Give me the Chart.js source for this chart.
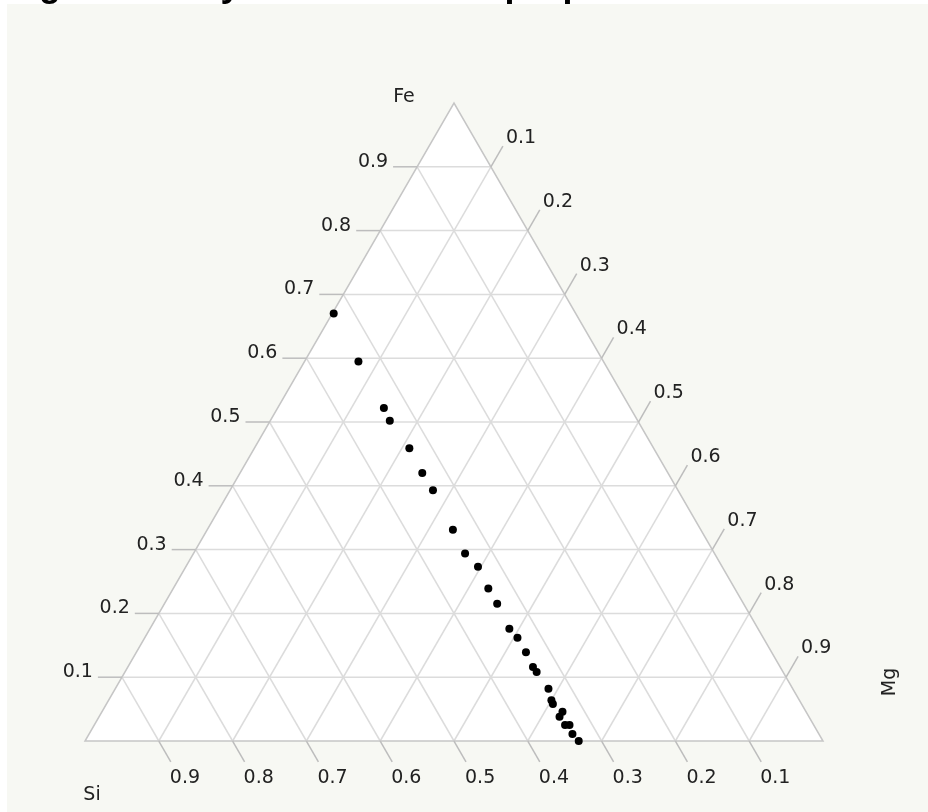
<!DOCTYPE html>
<html>
<head>
<meta charset="utf-8">
<script src="https://cdn.jsdelivr.net/npm/chart.js@4"></script>
<style>
  html, body { margin: 0; padding: 0; background: #fff; }
  canvas { display: block; }
</style>
</head>
<body>
<canvas id="ternary" width="928" height="812"></canvas>
<script>
// composition of each sample (fractions, Si + Fe + Mg = 1)
const si = [0.328, 0.332, 0.334, 0.336, 0.331, 0.333, 0.332, 0.336, 0.338, 0.331, 0.334, 0.334, 0.337,
            0.333, 0.333, 0.335, 0.334, 0.331, 0.336, 0.337, 0.330, 0.338, 0.337, 0.331, 0.334, 0.331]
const fe = [0.670, 0.595, 0.522, 0.502, 0.459, 0.420, 0.393, 0.331, 0.294, 0.273, 0.239, 0.215, 0.176,
            0.162, 0.139, 0.116, 0.108, 0.082, 0.064, 0.058, 0.046, 0.038, 0.025, 0.025, 0.011, 0.000]
const mg = [0.002, 0.073, 0.144, 0.162, 0.210, 0.247, 0.275, 0.333, 0.368, 0.396, 0.427, 0.451, 0.487,
            0.505, 0.528, 0.549, 0.558, 0.587, 0.600, 0.605, 0.624, 0.624, 0.638, 0.644, 0.655, 0.669]

const ticks = [0.1, 0.2, 0.3, 0.4, 0.5, 0.6, 0.7, 0.8, 0.9]
const tickLabels = ['0.1', '0.2', '0.3', '0.4', '0.5', '0.6', '0.7', '0.8', '0.9']
const axisNames = { si: 'Si', fe: 'Fe', mg: 'Mg' }
const title = 'Fig. 3 Ternary of the element proportions'

const H = Math.sqrt(3) / 2

// Si bottom-left, Mg bottom-right, Fe on top
function cart(s, f, m) {
    return { x: m + f / 2, y: f * H }
}

const points = si.map((s, i) => cart(s, fe[i], mg[i]))

const ternaryFrame = {
    id: 'ternaryFrame',
    beforeDraw(chart) {
        const { ctx, width, height } = chart
        ctx.save()
        ctx.fillStyle = '#f7f8f3'
        ctx.fillRect(7, 4, width - 7, height - 4)
        ctx.fillStyle = '#000'
        ctx.font = 'bold 36px "Liberation Sans"'
        ctx.textAlign = 'left'
        ctx.textBaseline = 'alphabetic'
        ctx.fillText(title, 7, -4)
        ctx.restore()
    },
    beforeDatasetsDraw(chart) {
        const { ctx, scales: { x, y } } = chart
        const pix = p => ({ x: x.getPixelForValue(p.x), y: y.getPixelForValue(p.y) })
        const seg = (a, b) => {
            const A = pix(a), B = pix(b)
            ctx.beginPath()
            ctx.moveTo(A.x, A.y)
            ctx.lineTo(B.x, B.y)
            ctx.stroke()
        }
        const L = pix(cart(1, 0, 0)), R = pix(cart(0, 0, 1)), T = pix(cart(0, 1, 0))

        ctx.save()
        // white triangle
        ctx.fillStyle = '#ffffff'
        ctx.beginPath()
        ctx.moveTo(L.x, L.y)
        ctx.lineTo(R.x, R.y)
        ctx.lineTo(T.x, T.y)
        ctx.closePath()
        ctx.fill()

        // grid
        ctx.strokeStyle = '#dcdcdc'
        ctx.lineWidth = 1.5
        ticks.forEach(k => {
            seg(cart(1 - k, k, 0), cart(0, k, 1 - k))
            seg(cart(1 - k, 0, k), cart(0, 1 - k, k))
            seg(cart(k, 0, 1 - k), cart(k, 1 - k, 0))
        })

        // outline
        ctx.strokeStyle = '#c6c6c6'
        ctx.beginPath()
        ctx.moveTo(L.x, L.y)
        ctx.lineTo(R.x, R.y)
        ctx.lineTo(T.x, T.y)
        ctx.closePath()
        ctx.stroke()

        // ticks + labels
        const len = 24, dx = len / 2, dy = len * H
        ctx.font = '19px "DejaVu Sans"'
        ctx.textBaseline = 'alphabetic'
        ticks.forEach((k, i) => {
            // Fe, left edge
            let P = pix(cart(1 - k, k, 0))
            ctx.strokeStyle = '#bdbdbd'
            ctx.beginPath(); ctx.moveTo(P.x, P.y); ctx.lineTo(P.x - len, P.y); ctx.stroke()
            ctx.fillStyle = '#222'
            ctx.textAlign = 'right'
            ctx.fillText(tickLabels[i], P.x - len - 5, P.y)

            // Mg, right edge
            P = pix(cart(0, 1 - k, k))
            ctx.beginPath(); ctx.moveTo(P.x, P.y); ctx.lineTo(P.x + dx, P.y - dy); ctx.stroke()
            ctx.textAlign = 'left'
            ctx.fillText(tickLabels[i], P.x + dx + 3, P.y - dy - 3)

            // Si, bottom edge
            P = pix(cart(k, 0, 1 - k))
            ctx.beginPath(); ctx.moveTo(P.x, P.y); ctx.lineTo(P.x + dx, P.y + dy); ctx.stroke()
            ctx.fillText(tickLabels[i], P.x + dx - 1, P.y + dy + 21)
        })

        // axis names
        ctx.textAlign = 'center'
        ctx.textBaseline = 'middle'
        ctx.fillText(axisNames.fe, T.x - 50, T.y - 6)
        ctx.fillText(axisNames.si, L.x + 7, L.y + 54)
        ctx.translate(R.x + 67, R.y - 59)
        ctx.rotate(-Math.PI / 2)
        ctx.fillText(axisNames.mg, 0, 0)
        ctx.restore()
    }
}

new Chart(document.getElementById('ternary'), {
    type: 'scatter',
    data: {
        datasets: [{
            data: points,
            backgroundColor: '#000',
            borderWidth: 0,
            pointRadius: 4,
            pointHoverRadius: 4,
            clip: false
        }]
    },
    plugins: [ternaryFrame],
    options: {
        responsive: false,
        animation: false,
        devicePixelRatio: 1,
        layout: { padding: { left: 85, right: 105, top: 103, bottom: 71 } },
        scales: {
            x: { type: 'linear', min: 0, max: 1, display: false },
            y: { type: 'linear', min: 0, max: H, display: false }
        },
        plugins: {
            legend: { display: false },
            tooltip: { enabled: false }
        }
    }
})
</script>
</body>
</html>
